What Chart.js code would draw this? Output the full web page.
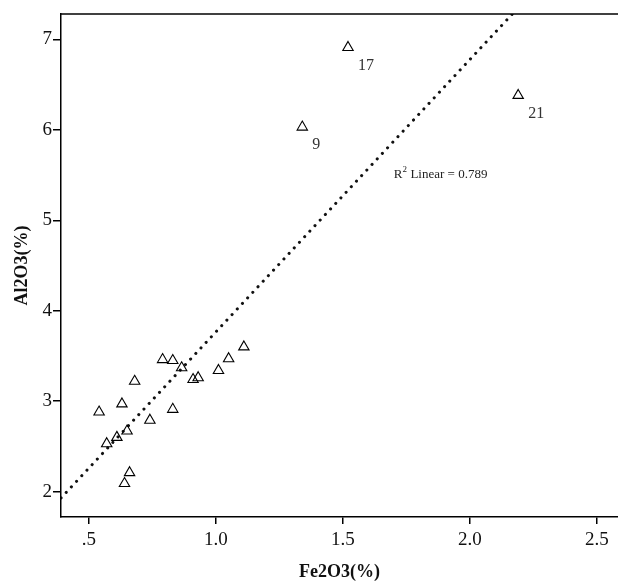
<!DOCTYPE html>
<html>
<head>
  <meta charset="UTF-8">
  <title>Al2O3 vs Fe2O3</title>
  <style>
    html, body { margin: 0; padding: 0; background: #fff; }
    #wrap { width: 618px; height: 583px; }
  </style>
</head>
<body>
<div id="wrap"><canvas id="chart" width="618" height="583"></canvas></div>

<script src="https://cdn.jsdelivr.net/npm/chart.js"></script>
<script>
  // data
  const fe2o3 = [0.54, 0.63, 0.68, 0.79, 0.83, 0.865, 0.91, 0.93, 1.01, 1.05, 1.11,
                 0.83, 0.74, 0.65, 0.61, 0.57, 0.66, 0.64, 1.34, 1.52, 2.19];
  const al2o3 = [2.88, 2.97, 3.22, 3.46, 3.45, 3.37, 3.24, 3.26, 3.34, 3.47, 3.60,
                 2.91, 2.79, 2.67, 2.60, 2.53, 2.21, 2.09, 6.03, 6.91, 6.38];
  const caseIds = ['', '', '', '', '', '', '', '', '', '', '',
                   '', '', '', '', '', '', '', '9', '17', '21'];

  // fit line end points
  const fitX = [0.39, 2.167];
  const fitY = [1.93, 7.28];
  const r2Text = 'Linear = 0.789';
  const r2Pos = [1.70, 5.50];

  const xTicks = [0.5, 1.0, 1.5, 2.0, 2.5];
  const xTickLabels = ['.5', '1.0', '1.5', '2.0', '2.5'];
  const yTicks = [2, 3, 4, 5, 6, 7];
  const yTickLabels = ['2', '3', '4', '5', '6', '7'];

  const serif = '"Liberation Serif", "DejaVu Serif", serif';

  const points = fe2o3.map((x, i) => ({ x: x, y: al2o3[i] }));
  const fitLine = fitX.map((x, i) => ({ x: x, y: fitY[i] }));

  // labels for cases + R2 text + top frame line
  const extras = {
    id: 'extras',
    afterDatasetsDraw(chart) {
      const c = chart.ctx, xs = chart.scales.x, ys = chart.scales.y, a = chart.chartArea;
      c.save();
      c.strokeStyle = '#000';
      c.lineWidth = 1.5;
      c.beginPath();
      c.moveTo(a.left, a.top);
      c.lineTo(chart.width, a.top);
      c.stroke();

      c.fillStyle = '#333';
      c.font = '16px ' + serif;
      c.textBaseline = 'middle';
      caseIds.forEach((id, i) => {
        if (!id) return;
        const px = xs.getPixelForValue(fe2o3[i]);
        const py = ys.getPixelForValue(al2o3[i]);
        c.fillText(id, px + 10, py + 18);
      });

      const rx = xs.getPixelForValue(r2Pos[0]);
      const ry = ys.getPixelForValue(r2Pos[1]);
      c.fillStyle = '#222';
      c.font = '13px ' + serif;
      c.fillText('R', rx, ry);
      const rw = c.measureText('R').width;
      c.font = '9px ' + serif;
      c.fillText('2', rx + rw, ry - 5);
      c.font = '13px ' + serif;
      c.fillText(r2Text, rx + rw + 8, ry);
      c.restore();
    }
  };

  new Chart(document.getElementById('chart'), {
    type: 'scatter',
    data: {
      datasets: [
        {
          data: points,
          pointStyle: 'triangle',
          pointRadius: 6,
          pointBorderWidth: 1.1,
          pointBorderColor: '#000',
          pointBackgroundColor: 'rgba(255,255,255,0)',
          showLine: false
        },
        {
          data: fitLine,
          showLine: true,
          pointRadius: 0,
          borderColor: '#111',
          borderWidth: 3,
          borderDash: [0.1, 7.5],
          borderCapStyle: 'round',
          fill: false
        }
      ]
    },
    options: {
      responsive: false,
      animation: false,
      layout: { autoPadding: false, padding: { top: 14, right: 0, left: 0, bottom: 0 } },
      plugins: { legend: { display: false }, tooltip: { enabled: false } },
      scales: {
        x: {
          type: 'linear',
          min: 0.39,
          max: 2.583,
          afterFit: s => { s.height = 66; s.paddingLeft = 0; s.paddingRight = 0; },
          afterBuildTicks: s => { s.ticks = xTicks.map(v => ({ value: v })); },
          ticks: {
            color: '#111',
            font: { family: serif, size: 19 },
            padding: 5,
            maxRotation: 0,
            callback: (v) => xTickLabels[xTicks.indexOf(v)]
          },
          grid: { display: true, drawOnChartArea: false, drawTicks: true, tickLength: 7, color: '#000', lineWidth: 1.5 },
          border: { display: true, color: '#000', width: 1.5 },
          title: { display: true, text: 'Fe2O3(%)', color: '#111', font: { family: serif, size: 18, weight: 'bold' }, padding: { top: 0, bottom: 0 } }
        },
        y: {
          type: 'linear',
          min: 1.72,
          max: 7.28,
          afterFit: s => { s.width = 61; s.paddingTop = 0; s.paddingBottom = 0; },
          afterBuildTicks: s => { s.ticks = yTicks.map(v => ({ value: v })); },
          ticks: {
            color: '#111',
            font: { family: serif, size: 19 },
            padding: 1,
            callback: (v) => yTickLabels[yTicks.indexOf(v)]
          },
          grid: { display: true, drawOnChartArea: false, drawTicks: true, tickLength: 8, color: '#000', lineWidth: 1.5 },
          border: { display: true, color: '#000', width: 1.5 },
          title: { display: true, text: 'Al2O3(%)', color: '#111', font: { family: serif, size: 18, weight: 'bold' }, padding: { top: 12, bottom: 0 } }
        }
      }
    },
    plugins: [extras]
  });
</script>
</body>
</html>
